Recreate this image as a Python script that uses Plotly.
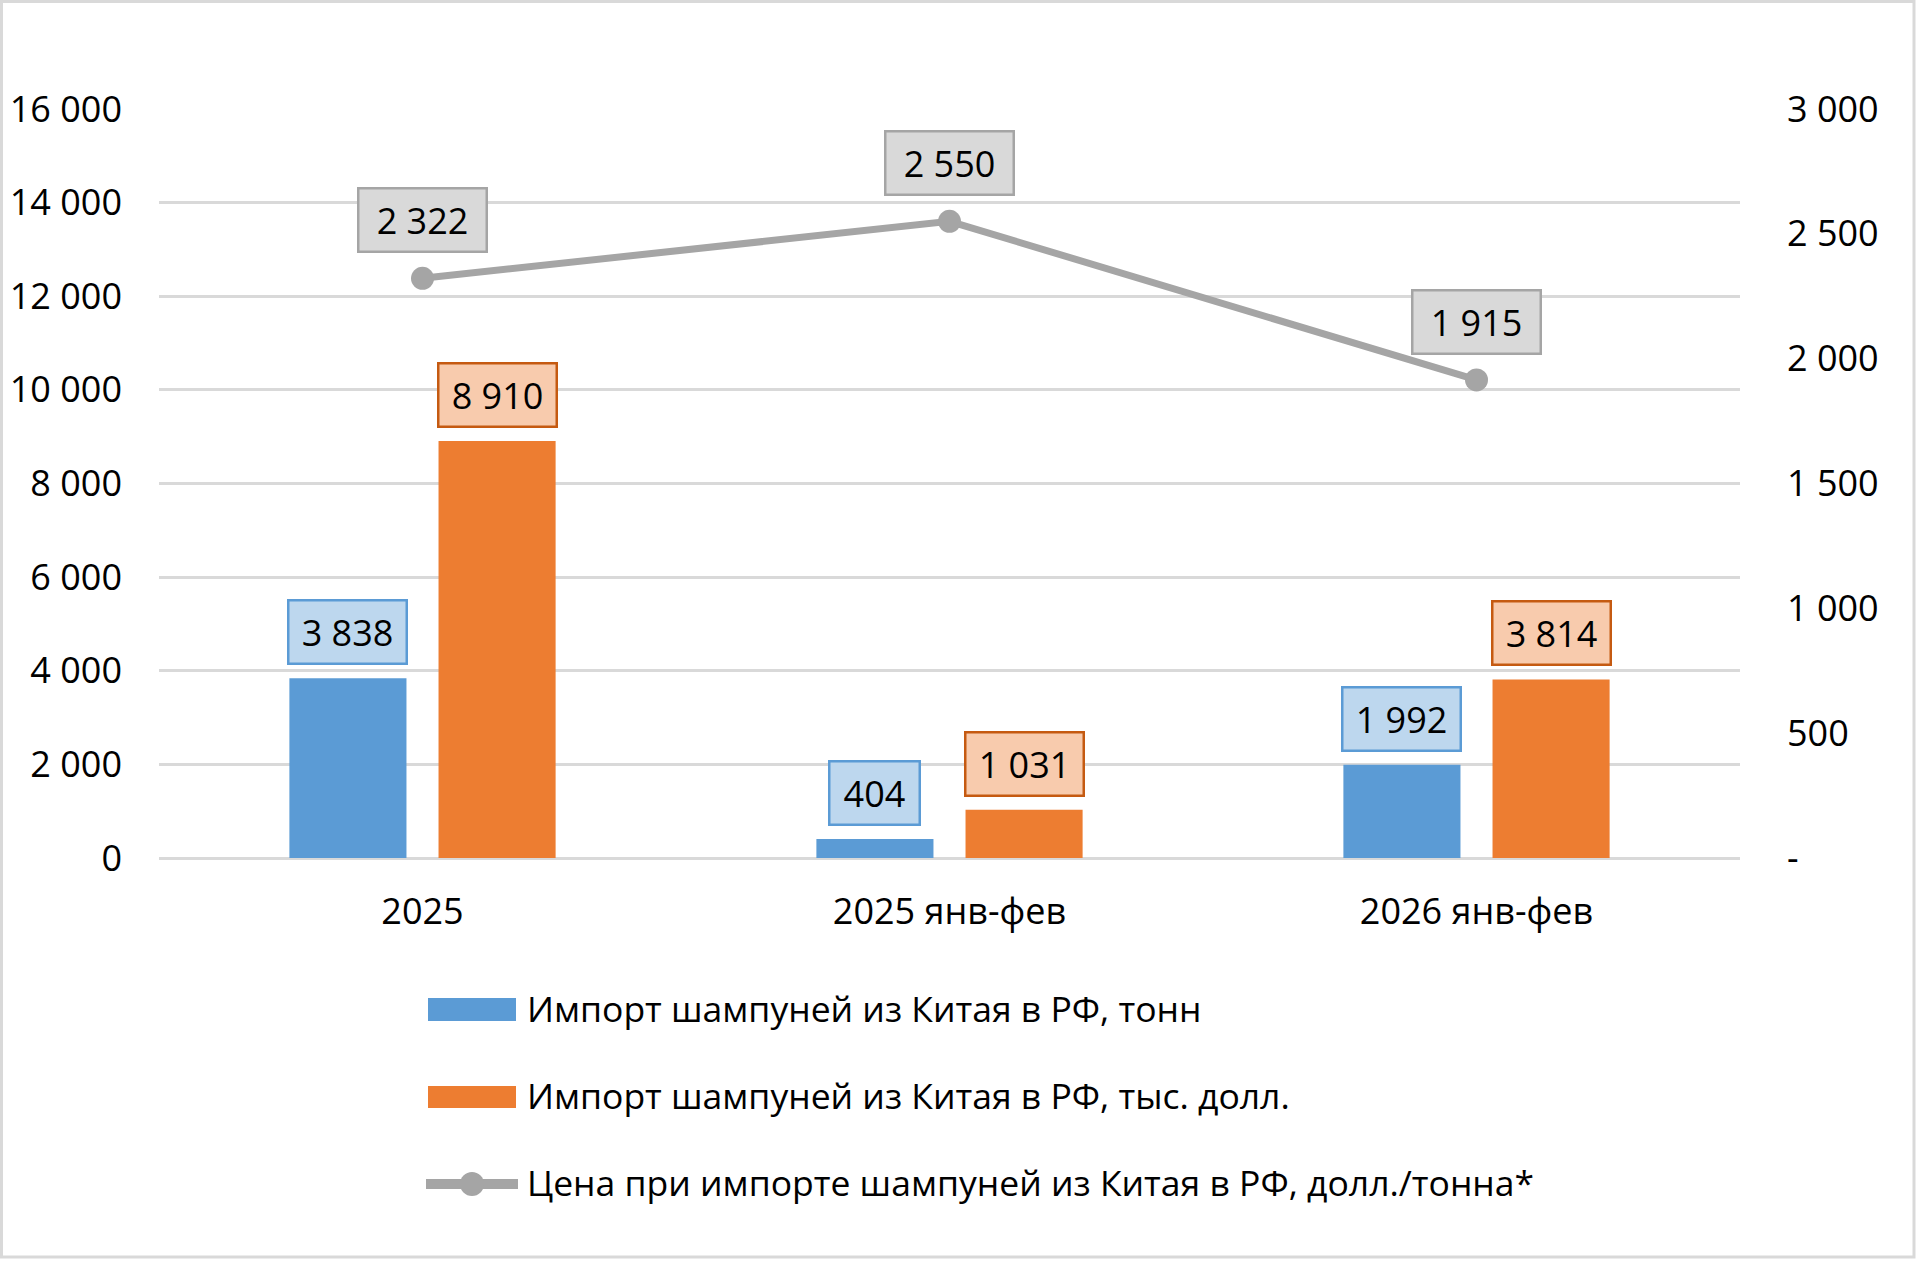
import plotly.graph_objects as go

# ── Data ──────────────────────────────────────────────────────────────────────
categories = ["2025", "2025 янв-фев", "2026 янв-фев"]
tonnes     = [3838, 404, 1992]
usd_k      = [8910, 1031, 3814]
price      = [2322, 2550, 1915]

name_tonnes = "Импорт шампуней из Китая в РФ, тонн"
name_usd    = "Импорт шампуней из Китая в РФ, тыс. долл."
name_price  = "Цена при импорте шампуней из Китая в РФ, долл./тонна*"

left_ticks  = list(range(0, 16001, 2000))
right_ticks = [0, 500, 1000, 1500, 2000, 2500, 3000]
right_text  = ["-", "500", "1 000", "1 500", "2 000", "2 500", "3 000"]

# ── Layout constants (px) ─────────────────────────────────────────────────────
W, H = 1917, 1261
ML, MR, MT, MB = 159, 177, 109, 403
PW, PH = W - ML - MR, H - MT - MB
BARGAP, GROUPGAP = 0.434, 0.215
FONT = "Open Sans"
FS = 36

BLUE, ORANGE, GRAY = "#5B9BD5", "#ED7D31", "#A5A5A5"
BLUE_LBL, ORANGE_LBL, GRAY_LBL = "#BDD7EE", "#F8CBAD", "#D9D9D9"
ORANGE_EDGE = "#C55A11"
GRID = "#D9D9D9"

slot = PW / len(categories) * (1 - BARGAP) / 2


def px_x(p):
    return (p - ML) / PW


def px_y(p):
    return (H - MB - p) / PH


def fmt(v):
    return f"{v:,}".replace(",", " ")


def box_w(txt):
    return 14 * len(txt) + 34


# ── Traces ────────────────────────────────────────────────────────────────────
fig = go.Figure()
fig.add_trace(go.Bar(x=categories, y=tonnes, name=name_tonnes,
                     marker=dict(color=BLUE, line_width=0)))
fig.add_trace(go.Bar(x=categories, y=usd_k, name=name_usd,
                     marker=dict(color=ORANGE, line_width=0)))
fig.add_trace(go.Scatter(x=categories, y=price, name=name_price, yaxis="y2",
                         mode="lines+markers",
                         line=dict(color=GRAY, width=7),
                         marker=dict(color=GRAY, size=23)))

# ── Data labels (x given as category index) ───────────────────────────────────
annotations = []
for i, (a, b, p) in enumerate(zip(tonnes, usd_k, price)):
    for val, shift, fill, edge in ((a, -slot / 2, BLUE_LBL, BLUE),
                                   (b, slot / 2, ORANGE_LBL, ORANGE_EDGE)):
        t = fmt(val)
        annotations.append(dict(
            x=i, y=val, xref="x", yref="y", text=t, showarrow=False,
            xshift=shift, yshift=13, yanchor="bottom", width=box_w(t),
            bgcolor=fill, bordercolor=edge, borderwidth=2.5, borderpad=6,
            font=dict(family=FONT, size=FS, color="black")))
    t = fmt(p)
    annotations.append(dict(
        x=i, y=p, xref="x", yref="y2", text=t, showarrow=False,
        yshift=25, yanchor="bottom", width=box_w(t) + 10,
        bgcolor=GRAY_LBL, bordercolor=GRAY, borderwidth=2.5, borderpad=6,
        font=dict(family=FONT, size=FS, color="black")))

# ── Legend (drawn by hand to match the wide swatches) ─────────────────────────
shapes = [
    dict(type="rect", xref="paper", yref="paper",
         x0=px_x(1.5), x1=px_x(W - 3), y0=px_y(H - 4), y1=px_y(1.5),
         line=dict(color=GRID, width=3), fillcolor="rgba(0,0,0,0)"),
    dict(type="rect", xref="paper", yref="paper",
         x0=px_x(428), x1=px_x(516), y0=px_y(1021), y1=px_y(998),
         line_width=0, fillcolor=BLUE),
    dict(type="rect", xref="paper", yref="paper",
         x0=px_x(428), x1=px_x(516), y0=px_y(1108), y1=px_y(1086),
         line_width=0, fillcolor=ORANGE),
    dict(type="line", xref="paper", yref="paper",
         x0=px_x(426), x1=px_x(518), y0=px_y(1184), y1=px_y(1184),
         line=dict(color=GRAY, width=10)),
    dict(type="circle", xref="paper", yref="paper",
         x0=px_x(460), x1=px_x(484), y0=px_y(1196), y1=px_y(1172),
         line_width=0, fillcolor=GRAY),
]
for name, yc in ((name_tonnes, 1008), (name_usd, 1095), (name_price, 1182)):
    annotations.append(dict(
        x=px_x(525), y=px_y(yc), xref="paper", yref="paper", text=name,
        showarrow=False, xanchor="left", yanchor="middle",
        font=dict(family=FONT, size=35.5, color="black")))

# ── Layout ────────────────────────────────────────────────────────────────────
fig.update_layout(
    width=W, height=H,
    margin=dict(l=ML, r=MR, t=MT, b=MB, autoexpand=False),
    paper_bgcolor="white", plot_bgcolor="white",
    barmode="group", bargap=BARGAP, bargroupgap=GROUPGAP,
    separators=", ",
    showlegend=False,
    font=dict(family=FONT, size=FS, color="black"),
    xaxis=dict(type="category", range=[-0.5, len(categories) - 0.5],
               automargin=False, showgrid=False, showline=False, ticks="",
               ticklabelstandoff=29, tickfont=dict(size=FS)),
    yaxis=dict(range=[0, 16000], tickvals=left_ticks, tickformat=",d",
               automargin=False,
               showgrid=True, gridcolor=GRID, gridwidth=2.5,
               zeroline=True, zerolinecolor=GRID, zerolinewidth=2.5,
               showline=False, ticks="", ticklabelstandoff=36),
    yaxis2=dict(range=[0, 3000], overlaying="y", side="right",
                automargin=False,
                tickvals=right_ticks, ticktext=right_text,
                showgrid=False, zeroline=False, showline=False, ticks="",
                ticklabelstandoff=46),
    annotations=annotations,
    shapes=shapes,
)

fig.write_html("out.html", config={"displayModeBar": False},
               post_script="document.body.style.margin='0';")
